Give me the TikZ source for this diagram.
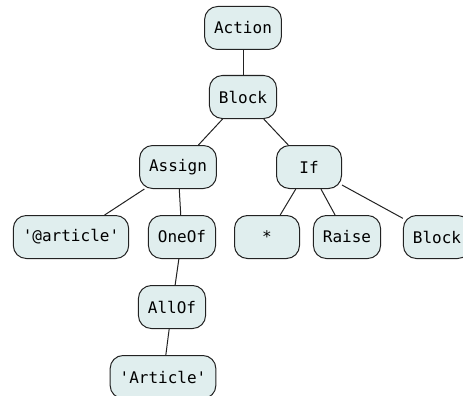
\documentclass[tikz,border=0pt]{standalone}
\usepackage{fontspec}
\setmonofont{DejaVu Sans Mono}
\definecolor{nodefill}{HTML}{E0EEEE}
\definecolor{nodeline}{HTML}{222222}
\tikzset{
  astnode/.style={draw=nodeline, fill=nodefill, line width=1pt,
    rounded corners=13pt, minimum height=43pt, inner xsep=9.5pt,
    font=\fontsize{16}{19}\selectfont\ttfamily},
  astedge/.style={draw=nodeline, line width=1pt}
}
\begin{document}
\begin{tikzpicture}[x=1pt, y=-1pt]
  \useasboundingbox (0,0) rectangle (463,396);
  \clip (0,0) rectangle (463,396);
  % tree nodes
  \node[astnode] (action) at (243,28) {Action};
  \node[astnode] (block) at (243,97) {Block};
  \node[astnode] (assign) at (178,167) {Assign};
  \node[astnode, minimum width=65pt] (if) at (309,167) {If};
  \node[astnode] (str) at (71,237) {'@article'};
  \node[astnode] (oneof) at (182,237) {OneOf};
  \node[astnode, minimum width=65pt] (star) at (267,237) {*};
  \node[astnode] (raise) at (347,237) {Raise};
  \node[astnode] (block2) at (437,237) {Block};
  \node[astnode] (allof) at (172,307) {AllOf};
  \node[astnode] (article) at (163,377) {'Article'};
  % tree edges
  \draw[astedge] (action) -- (block);
  \draw[astedge] (block) -- (assign);
  \draw[astedge] (block) -- (if);
  \draw[astedge] (assign) -- (str);
  \draw[astedge] (assign) -- (oneof);
  \draw[astedge] (if) -- (star);
  \draw[astedge] (if) -- (raise);
  \draw[astedge] (if) -- (block2);
  \draw[astedge] (oneof) -- (allof);
  \draw[astedge] (allof) -- (article);
\end{tikzpicture}
\end{document}
